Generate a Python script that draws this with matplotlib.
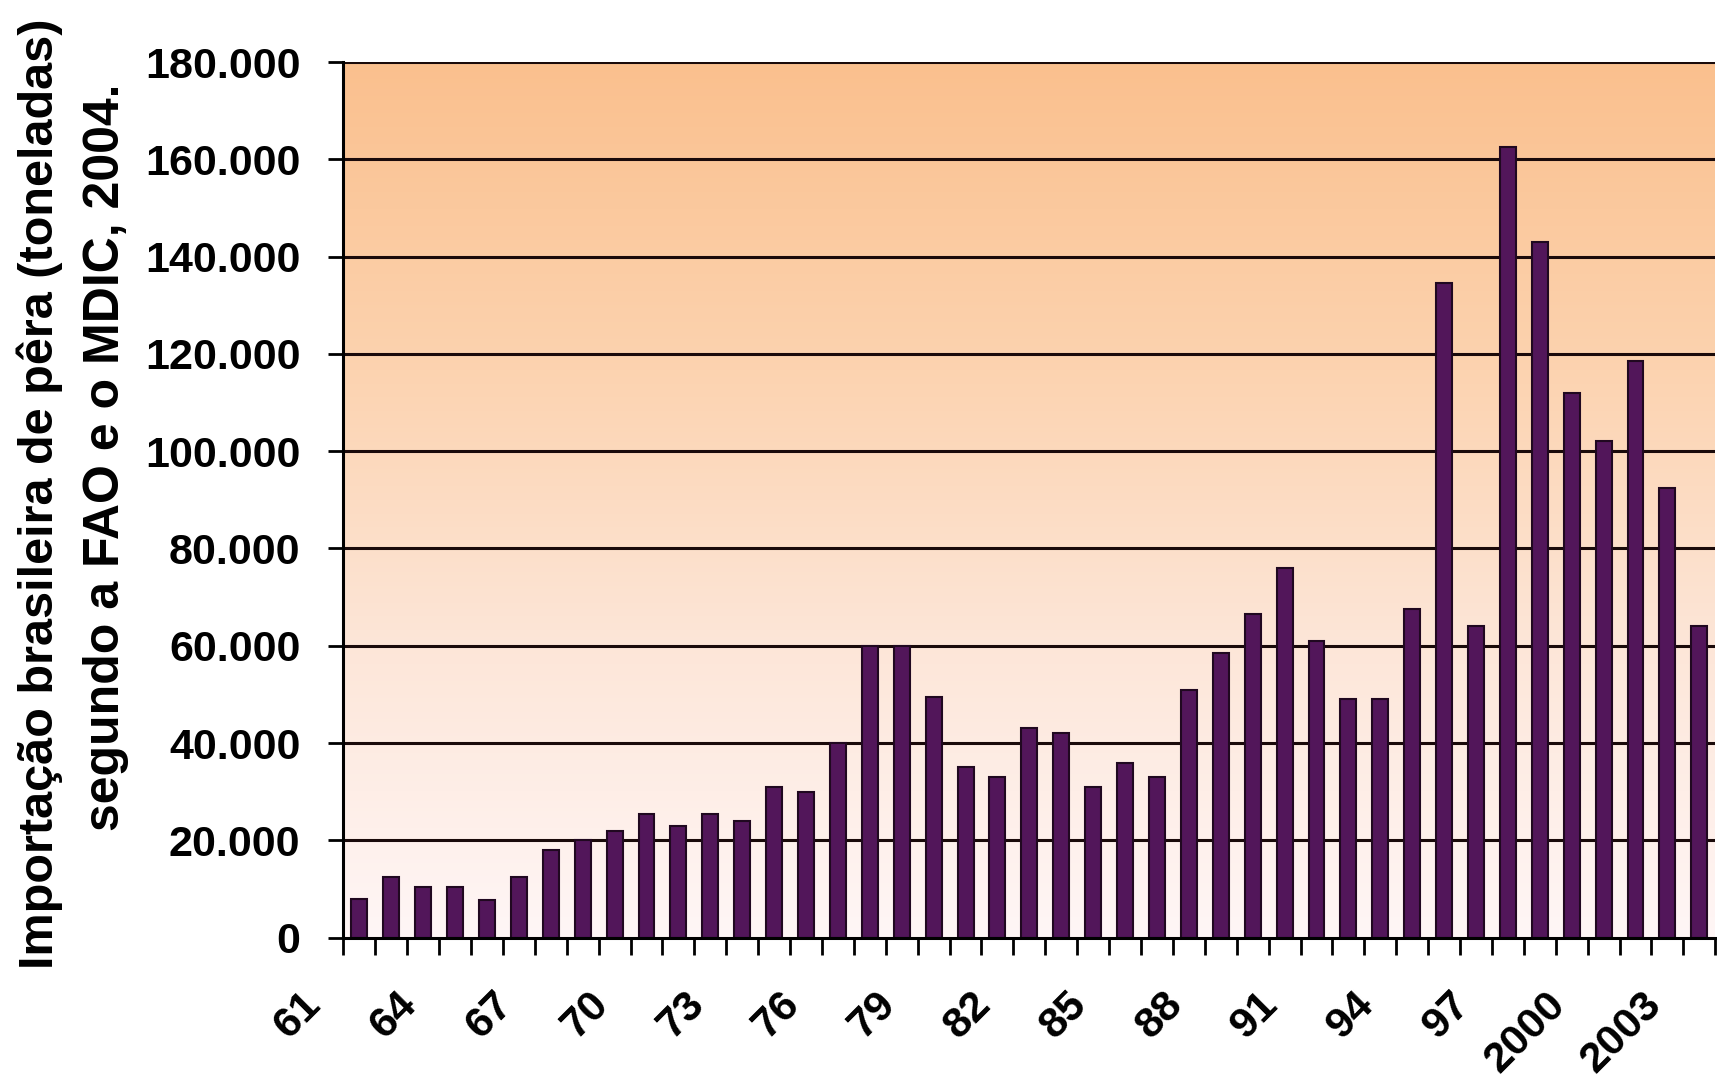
import numpy as np
import matplotlib.pyplot as plt
from matplotlib.colors import LinearSegmentedColormap
from matplotlib.ticker import FuncFormatter, MultipleLocator
from matplotlib.transforms import ScaledTranslation

# anos 1961-2003
anos = list(range(1961, 2004))
# importacao de pera (toneladas)
toneladas = [8000, 12500, 10500, 10500, 7800, 12500, 18000, 20000, 22000, 25500,
             23000, 25500, 24000, 31000, 30000, 40000, 60000, 60000, 49500, 35000,
             33000, 43000, 42000, 31000, 36000, 33000, 51000, 58500, 66500, 76000,
             61000, 49000, 49000, 67500, 134500, 64000, 162500, 143000, 112000, 102000,
             118500, 92500, 64000]
rotulos = ['61', '64', '67', '70', '73', '76', '79', '82', '85', '88', '91', '94',
           '97', '2000', '2003']

plt.rcParams['font.family'] = ['Liberation Sans', 'DejaVu Sans']
plt.rcParams['font.weight'] = 'bold'

fig = plt.figure(figsize=(17.17, 10.89), dpi=100)
ax = fig.add_axes([0.2, 0.139, 0.799, 0.804])

x = np.arange(len(anos))

# fundo em degrade (laranja em cima, quase branco embaixo)
cmap = LinearSegmentedColormap.from_list(
    'fundo', ['#fff6f6', '#fde6d8', '#fcd2ae', '#fac08e'])
grad = np.linspace(1, 0, 256).reshape(-1, 1)
ax.imshow(grad, extent=[-0.5, len(anos) - 0.5, 0, 180000], aspect='auto',
          cmap=cmap, zorder=0)

for v in range(20000, 180001, 20000):
    ax.axhline(v, color='#1a0a0a', lw=2.2, zorder=1)

ax.bar(x, toneladas, width=0.5, color='#52165a', edgecolor='#200820',
       linewidth=1.5, zorder=2)

ax.set_xlim(-0.5, len(anos) - 0.5)
ax.set_ylim(0, 180000)

ax.yaxis.set_major_locator(MultipleLocator(20000))
ax.yaxis.set_major_formatter(FuncFormatter(lambda v, p: f'{int(v):,}'.replace(',', '.')))
ax.tick_params(axis='y', labelsize=31, length=11, width=2, pad=20)

# marcas entre as categorias, rotulos a cada 3 anos
ax.set_xticks(np.arange(-0.5, len(anos), 1), minor=True)
ax.set_xticks(x[::3])
ax.set_xticklabels(rotulos, rotation=45, ha='right', va='center',
                   rotation_mode='anchor')
ax.tick_params(axis='x', which='minor', length=12, width=2)
ax.tick_params(axis='x', which='major', length=0, labelsize=31, pad=44)
desloc = ScaledTranslation(-32 / 72, 0, fig.dpi_scale_trans)
for lbl in ax.get_xticklabels():
    lbl.set_transform(lbl.get_transform() + desloc)

for s in ['top', 'right']:
    ax.spines[s].set_visible(False)
for s in ['left', 'bottom']:
    ax.spines[s].set_linewidth(2.2)
    ax.spines[s].set_color('black')

# titulo do eixo y em duas linhas
fig.text(0.023, 0.11, 'Importação brasileira de pêra (toneladas)', rotation=90,
         ha='center', va='bottom', fontsize=35, fontweight='bold')
fig.text(0.062, 0.58, 'segundo a FAO e o MDIC, 2004.', rotation=90,
         ha='center', va='center', fontsize=36, fontweight='bold')

fig.savefig('out.png', dpi=100, facecolor='white')
